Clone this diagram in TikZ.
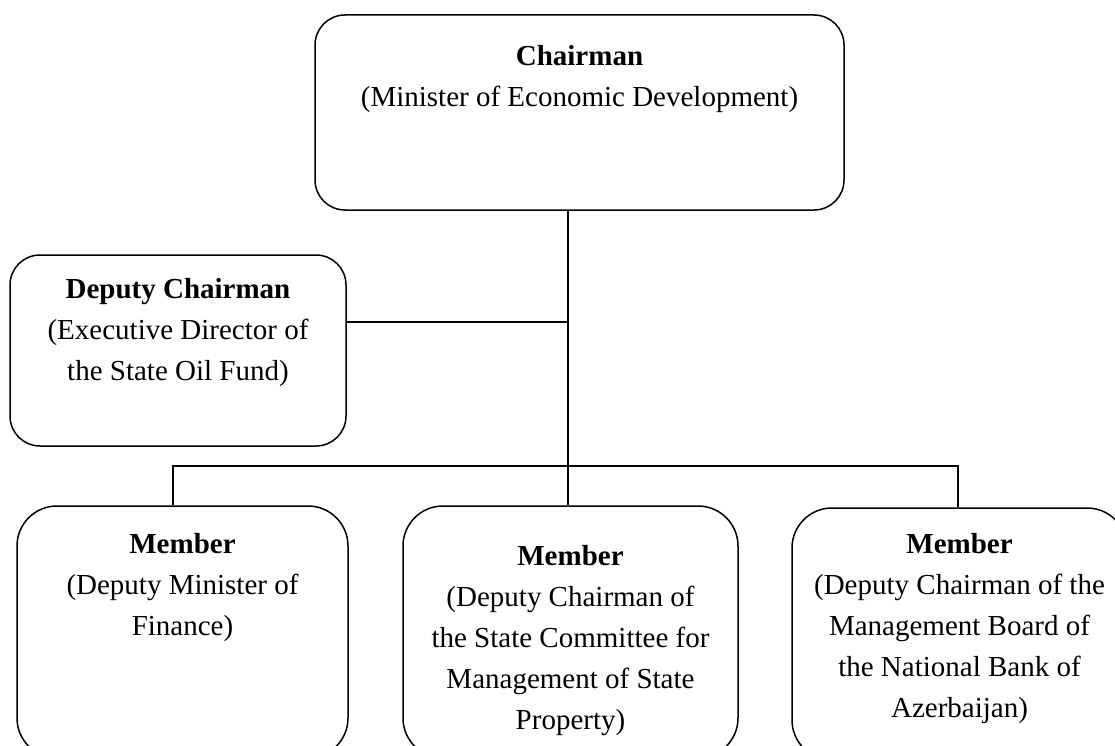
\documentclass[tikz,border=0pt]{standalone}
\usepackage{fontspec}
\setmainfont{Liberation Serif}

% top aligned text inside a box: width, height, first baseline, text
\newcommand{\boxtext}[4]{\parbox[c][#2][t]{#1}{\centering\rule{0pt}{#3}#4}}

\tikzset{
	orgbox/.style={draw, line width=1.5pt, rounded corners=#1, inner sep=0pt, font=\fontsize{29}{41}\selectfont},
	orgbox/.default=30pt,
	link/.style={line width=1.6pt}
}

\begin{document}
\begin{tikzpicture}[x=1pt,y=-1pt]

	\useasboundingbox (0,0) rectangle (1115,746);
	\clip (0,0) rectangle (1115,746);

	\node[orgbox] (Chair) at (579.5,112.5) {\boxtext{529pt}{195pt}{51pt}{\textbf{Chairman}\\(Minister of Economic Development)}};
	\node[orgbox] (Deputy) at (178,350.5) {\boxtext{336pt}{191pt}{43pt}{\textbf{Deputy Chairman}\\(Executive Director of\\the State Oil Fund)}};

	\node[orgbox=40pt] (Finance) at (182.5,632) {\boxtext{331pt}{252pt}{47pt}{\textbf{Member}\\(Deputy Minister of\\Finance)}};
	\node[orgbox=40pt] (Property) at (570.5,632) {\boxtext{335pt}{252pt}{59pt}{\textbf{Member}\\(Deputy Chairman of\\the State Committee for\\Management of State\\Property)}};
	\node[orgbox=40pt] (Bank) at (959.5,634) {\boxtext{335pt}{252pt}{45pt}{\textbf{Member}\\(Deputy Chairman of the\\Management Board of\\the National Bank of\\Azerbaijan)}};

	\coordinate (hub) at (568,322);
	\coordinate (busL) at (173,466);
	\coordinate (busR) at (958,466);

	\draw[link] (Chair.south -| hub) -- (Property.north -| hub);
	\draw[link] (Deputy.east |- hub) -- (hub);
	\draw[link] (Finance.north -| busL) -- (busL) -- (busR) -- (Bank.north -| busR);

\end{tikzpicture}
\end{document}
